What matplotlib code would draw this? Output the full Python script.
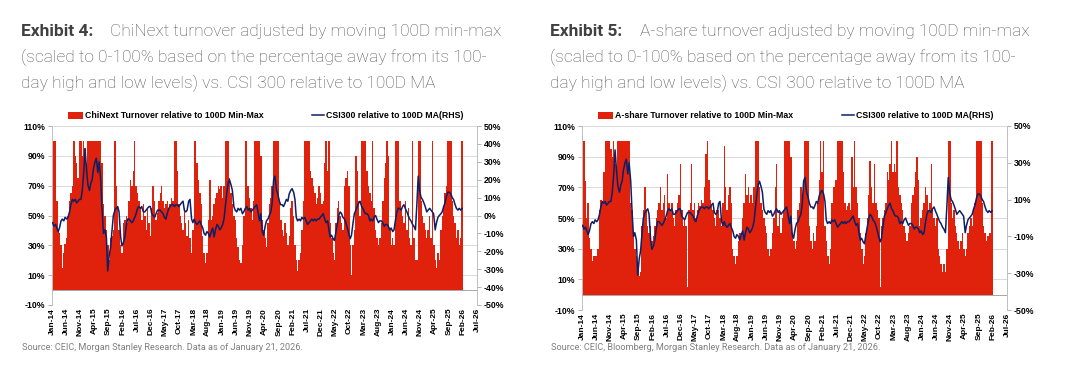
import matplotlib
matplotlib.use("Agg")
import matplotlib.pyplot as plt
import matplotlib.patches as mpatches
import matplotlib.lines as mlines
import numpy as np
import pandas as pd

# ---------------- data (semi-monthly readings, Jan-2014 .. Jan-2026) ----------------
csi300_rel_ma = [  # % relative to 100D MA (right axis)
    -4, -6, -5, -7, -9, -7, -3, -2, -3, -1, -2, -1, 2, 6, 9, 8, 9, 7, 8, 9, 9, 14, 24, 37,
    25, 17, 14, 18, 20, 26, 30, 32, 24, 30, 20, 4, -10, -8, -12, -31, -22, -18, -8, 0, 3, 4, 5, 2,
    -12, -17, -15, -12, -6, -2, -2, -3, -4, -3, -1, 1, 4, 5, 4, 5, 2, 2, 3, 4, 5, 5, 1, 0,
    -1, 1, 3, 3, 3, 2, 1, -1, -2, 1, 4, 5, 6, 6, 5, 6, 6, 5, 6, 7, 8, 3, 2, 3,
    8, 9, -2, -4, -2, -4, -5, -4, -3, -5, -7, -10, -11, -9, -10, -12, -9, -7, -12, -8, -5, -6, -8, -7,
    -5, -2, 6, 13, 18, 20, 17, 14, 5, 3, 2, 4, 3, 4, 1, 2, 4, 5, 3, 4, 2, 3, 4, 5,
    6, 2, -3, 1, -9, -11, -6, -3, -2, 0, 2, 7, 20, 22, 14, 12, 8, 6, 6, 5, 7, 9, 8, 12,
    14, 15, 13, 9, -1, -3, -2, -3, -1, -2, -1, -3, -5, -4, -3, -2, -3, -2, -3, -2, -2, -1, 0, 1,
    -2, -4, -3, -8, -12, -11, -13, -14, -9, -5, 0, 2, 1, -1, -2, -4, -7, -10, -13, -11, -4, 1, 3, 5,
    7, 8, 5, 4, 2, 1, 1, 0, -3, -2, -3, -1, 0, -2, -4, -3, -3, -4, -6, -5, -5, -6, -8, -7,
    -9, -8, -2, 2, 4, 4, 3, 5, 6, 4, 2, 0, -2, -3, -5, -6, -8, 5, 22, 14, 10, 9, 7, 5,
    2, 3, 4, 3, 2, 1, -8, -4, -1, 0, 1, 2, 5, 7, 11, 13, 13, 12, 10, 9, 6, 4, 3, 4,
    3, 4,
]

chinext_turnover = [  # % of 100D min-max range (left axis)
    100, 100, 100, 60, 40, 38, 30, 15, 25, 31, 35, 50, 60, 65, 70, 100, 90, 85, 75, 100, 100, 90, 100, 95,
    85, 100, 100, 100, 100, 100, 100, 100, 100, 100, 100, 85, 58, 50, 40, 30, 20, 35, 36, 40, 100, 70, 55, 40,
    30, 25, 45, 47, 50, 45, 60, 74, 70, 80, 100, 70, 65, 60, 55, 47, 58, 50, 40, 55, 45, 36, 55, 70,
    60, 47, 52, 60, 65, 70, 60, 55, 58, 60, 55, 58, 62, 60, 100, 100, 80, 58, 50, 45, 40, 55, 45, 36,
    47, 35, 25, 40, 100, 100, 85, 74, 65, 58, 36, 25, 18, 25, 47, 74, 47, 50, 58, 62, 65, 70, 68, 70,
    62, 70, 100, 100, 100, 75, 65, 58, 50, 47, 35, 29, 20, 18, 30, 50, 100, 100, 70, 62, 55, 47, 60, 100,
    100, 100, 100, 90, 47, 40, 35, 29, 45, 58, 62, 70, 100, 100, 100, 100, 60, 47, 40, 36, 45, 38, 30, 36,
    55, 60, 50, 30, 20, 13, 20, 25, 40, 60, 100, 100, 100, 100, 80, 75, 70, 65, 58, 62, 70, 65, 58, 60,
    85, 100, 80, 100, 45, 35, 25, 20, 45, 55, 60, 50, 45, 40, 70, 75, 80, 70, 30, 10, 30, 40, 90, 80,
    60, 50, 100, 100, 100, 100, 80, 70, 65, 60, 100, 55, 40, 35, 30, 35, 45, 60, 75, 85, 100, 90, 40, 30,
    35, 30, 100, 100, 100, 60, 55, 50, 45, 60, 40, 55, 35, 30, 100, 35, 20, 20, 100, 100, 60, 50, 45, 40,
    35, 40, 50, 35, 100, 30, 20, 15, 25, 20, 40, 50, 55, 65, 70, 100, 100, 100, 60, 50, 45, 35, 40, 30,
    35, 100,
]

ashare_turnover = [  # % of 100D min-max range (left axis)
    25, 100, 74, 50, 60, 37, 30, 22, 25, 25, 25, 30, 55, 62, 60, 80, 100, 100, 100, 100, 95, 90, 100, 85,
    80, 100, 100, 100, 100, 100, 100, 100, 100, 100, 60, 55, 40, 30, 25, 20, 12, 15, 45, 55, 70, 55, 45, 40,
    45, 35, 38, 45, 50, 55, 60, 70, 55, 60, 65, 50, 79, 60, 55, 60, 50, 45, 55, 60, 65, 85, 55, 45,
    50, 45, 5, 55, 60, 85, 55, 60, 50, 55, 60, 58, 62, 60, 70, 92, 100, 75, 62, 58, 55, 50, 45, 55,
    55, 50, 45, 60, 97, 70, 55, 65, 70, 60, 30, 25, 20, 25, 35, 40, 38, 50, 60, 79, 65, 70, 60, 65,
    60, 70, 100, 100, 100, 70, 60, 55, 50, 45, 40, 30, 25, 30, 40, 50, 70, 85, 45, 55, 40, 50, 55, 100,
    100, 100, 100, 90, 40, 35, 30, 35, 55, 60, 70, 65, 75, 100, 100, 100, 45, 35, 30, 40, 35, 45, 60, 75,
    100, 80, 100, 45, 35, 25, 20, 30, 60, 70, 70, 75, 100, 100, 100, 100, 80, 60, 55, 58, 60, 55, 90, 70,
    100, 70, 60, 50, 40, 30, 20, 25, 40, 50, 65, 87, 70, 60, 85, 60, 55, 50, 5, 45, 50, 55, 60, 80,
    75, 85, 100, 80, 85, 80, 100, 70, 65, 60, 55, 45, 40, 35, 40, 45, 60, 65, 70, 80, 90, 75, 45, 50,
    55, 60, 70, 65, 55, 60, 85, 55, 50, 45, 50, 30, 25, 20, 15, 20, 15, 30, 100, 100, 60, 50, 55, 45,
    40, 35, 30, 35, 40, 30, 25, 30, 40, 45, 50, 45, 55, 60, 100, 100, 100, 100, 60, 45, 40, 35, 38, 40,
    40, 100,
]

left_ticks = [-10, 10, 30, 50, 70, 90, 110]
right_ticks_4 = [-50, -40, -30, -20, -10, 0, 10, 20, 30, 40, 50]
right_ticks_5 = [-50, -30, -10, 10, 30, 50]

titles = [
    ("Exhibit 4:", "ChiNext turnover adjusted by moving 100D min-max",
     "(scaled to 0-100% based on the percentage away from its 100-",
     "day high and low levels) vs. CSI 300 relative to 100D MA"),
    ("Exhibit 5:", "A-share turnover adjusted by moving 100D min-max",
     "(scaled to 0-100% based on the percentage away from its 100-",
     "day high and low levels) vs. CSI 300 relative to 100D MA"),
]
bar_labels = ["ChiNext Turnover relative to 100D Min-Max",
              "A-share Turnover relative to 100D Min-Max"]
line_label = "CSI300 relative to 100D MA(RHS)"
sources = ["Source: CEIC, Morgan Stanley Research. Data as of January 21, 2026.",
           "Source: CEIC, Bloomberg, Morgan Stanley Research. Data as of January 21, 2026."]

# ---------------- styling ----------------
RED = "#E0210B"
NAVY = "#0D1F66"
GRID = "#D9D9D9"
TICKFONT = dict(family="Liberation Sans", weight="bold", size=6.3)
XTICKFONT = dict(family="Liberation Sans", weight="bold", size=6.0)
W, H = 1080, 372

fig = plt.figure(figsize=(W / 100, H / 100), dpi=100)

def fx(px):
    return px / W

def fy(py):
    return 1 - py / H

panels = [
    dict(x0=52, x1=477, top=126, bottom=305, bars=chinext_turnover, rticks=right_ticks_4,
         tx=21, tx2=110, leg_bar=68, leg_line=312, src_x=22),
    dict(x0=582, x1=1007, top=126, bottom=310, bars=ashare_turnover, rticks=right_ticks_5,
         tx=550, tx2=640, leg_bar=598, leg_line=842, src_x=551),
]

xticks = pd.date_range("2014-01-01", "2026-07-01", freq="5MS")

for i, p in enumerate(panels):
    ax = fig.add_axes([fx(p["x0"]), fy(p["bottom"]), fx(p["x1"] - p["x0"]), (p["bottom"] - p["top"]) / H])
    dates = pd.date_range("2014-01-01", periods=len(p["bars"]) + 1, freq="SMS")
    widths = np.diff(dates.values).astype("timedelta64[h]").astype(float) / 24.0 + 0.3
    ax.bar(dates[:-1], p["bars"], width=widths, align="edge", color=RED, linewidth=0, zorder=2)
    ax.set_ylim(-10, 110)
    ax.set_xlim(pd.Timestamp("2014-01-01"), pd.Timestamp("2026-07-01"))
    ax.set_yticks(left_ticks)
    ax.set_yticklabels([f"{t}%" for t in left_ticks], fontdict=TICKFONT)
    ax.yaxis.grid(True, color=GRID, linewidth=0.7, zorder=0)
    ax.set_axisbelow(True)
    ax.axhline(0, color="#A6A6A6", linewidth=0.7, zorder=3)
    ax.set_xticks(xticks)
    ax.set_xticklabels([d.strftime("%b-%y") for d in xticks], rotation=90, fontdict=XTICKFONT)
    ax.tick_params(axis="x", length=0, pad=2)
    ax.tick_params(axis="y", length=3, color="#A6A6A6", pad=2, width=0.6)
    for s in ["top", "bottom", "right"]:
        ax.spines[s].set_visible(False)
    ax.spines["left"].set_color("#BFBFBF")
    ax.spines["left"].set_linewidth(0.7)

    ax2 = ax.twinx()
    line_dates = dates[:-1] + pd.Timedelta(days=7)
    ax2.plot(line_dates, csi300_rel_ma, color=NAVY, linewidth=1.1, zorder=4)
    ax2.set_ylim(-50, 50)
    ax2.set_yticks(p["rticks"])
    ax2.set_yticklabels([f"{t}%" for t in p["rticks"]], fontdict=TICKFONT)
    ax2.tick_params(axis="y", length=3, color="#A6A6A6", pad=2, width=0.6)
    for s in ["top", "bottom", "left"]:
        ax2.spines[s].set_visible(False)
    ax2.spines["right"].set_color("#BFBFBF")
    ax2.spines["right"].set_linewidth(0.7)

    # legends
    leg_font = dict(family="Liberation Sans", weight="bold", size=6.3)
    ph = mpatches.Patch(color=RED, label=bar_labels[i], linewidth=0)
    fig.legend(handles=[ph], loc="center left", bbox_to_anchor=(fx(p["leg_bar"]), fy(116)),
               frameon=False, prop=leg_font, handlelength=1.75, handleheight=0.75,
               handletextpad=0.15, borderpad=0, borderaxespad=0)
    lh = mlines.Line2D([], [], color=NAVY, linewidth=1.1, label=line_label)
    fig.legend(handles=[lh], loc="center left", bbox_to_anchor=(fx(p["leg_line"]), fy(116)),
               frameon=False, prop=leg_font, handlelength=1.4,
               handletextpad=0.15, borderpad=0, borderaxespad=0)

    # titles
    t = titles[i]
    fig.text(fx(p["tx"]), fy(36), t[0], family="Roboto", weight="bold", size=12.5, color="#404040")
    fig.text(fx(p["tx2"]), fy(36), t[1], family="Roboto", weight="light", size=12.5, color="#555555")
    fig.text(fx(p["tx"]), fy(62), t[2], family="Roboto", weight="light", size=12.5, color="#555555")
    fig.text(fx(p["tx"]), fy(88), t[3], family="Roboto", weight="light", size=12.5, color="#555555")

    fig.text(fx(p["src_x"]), fy(347), sources[i], family="Roboto", size=6.6, color="#7F7F7F", va="center")

fig.savefig("out.png", dpi=100)
